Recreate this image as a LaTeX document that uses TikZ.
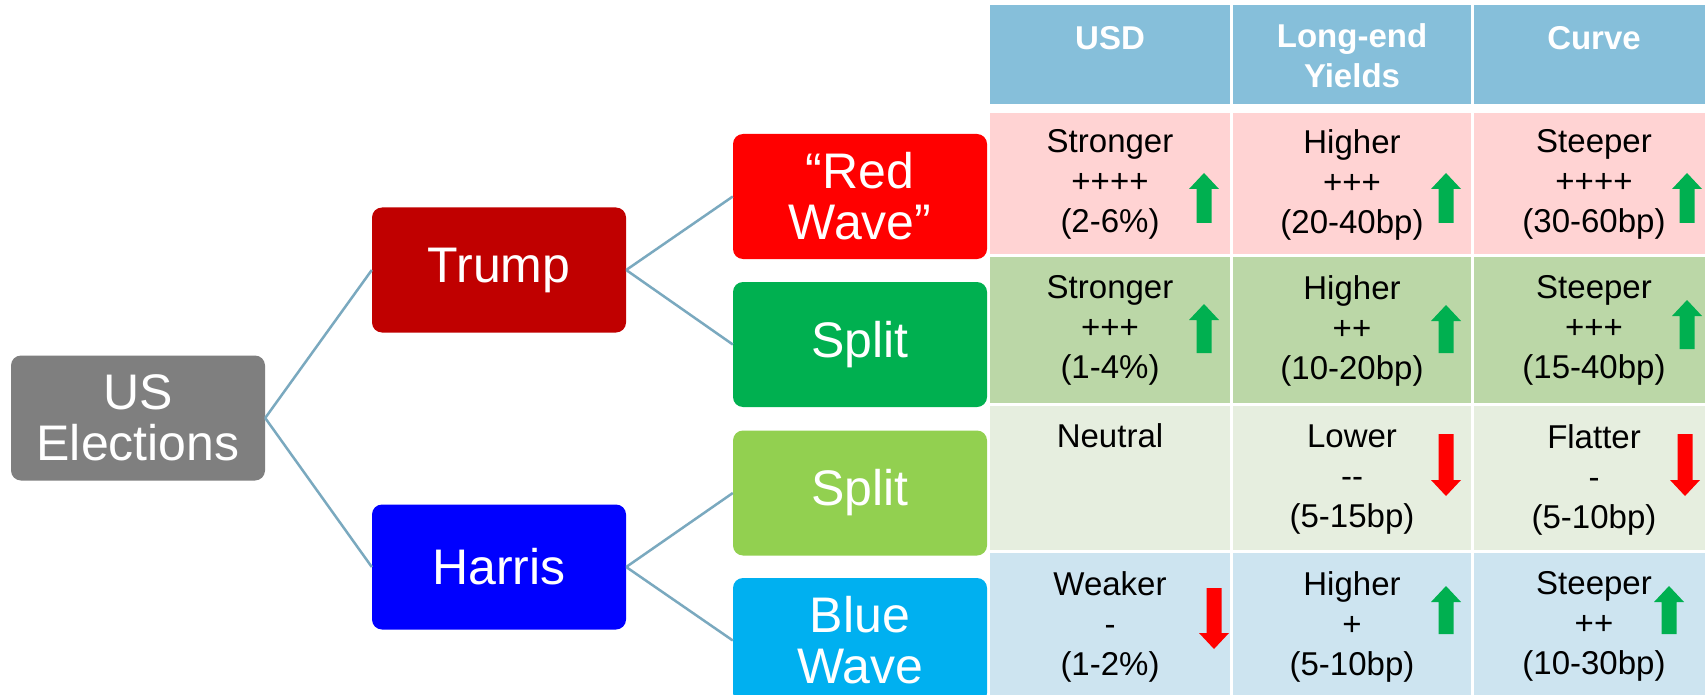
\documentclass[tikz,border=0pt]{standalone}
\usepackage{fontspec}
\setmainfont{Liberation Sans}
\definecolor{cGray}{HTML}{7F7F7F}
\definecolor{cTrump}{HTML}{C00000}
\definecolor{cHarris}{HTML}{0000FF}
\definecolor{cRed}{HTML}{FF0000}
\definecolor{cGreen}{HTML}{00B050}
\definecolor{cLGreen}{HTML}{92D050}
\definecolor{cLBlue}{HTML}{00B0F0}
\definecolor{cLine}{HTML}{7AA9BF}
\definecolor{cHead}{HTML}{86BFDA}
\definecolor{cRa}{HTML}{FFD3D3}
\definecolor{cRb}{HTML}{BBD7A7}
\definecolor{cRc}{HTML}{E6EEDF}
\definecolor{cRd}{HTML}{CDE4F0}
\newcommand\myUp[4]{\fill[#4] ({#1-7.5},#3) -- ({#1-7.5},{#2+16}) -- ({#1-15},{#2+16}) -- (#1,#2) -- ({#1+15},{#2+16}) -- ({#1+7.5},{#2+16}) -- ({#1+7.5},#3) -- cycle;}
\newcommand\myDown[4]{\fill[#4] ({#1-7.5},#2) -- ({#1-7.5},{#3-16}) -- ({#1-15},{#3-16}) -- (#1,#3) -- ({#1+15},{#3-16}) -- ({#1+7.5},{#3-16}) -- ({#1+7.5},#2) -- cycle;}
\begin{document}
\begin{tikzpicture}[x=1pt,y=-1pt,
  treebox/.style={rounded corners=10pt, minimum width=254pt, minimum height=125pt, inner sep=0pt,
    text=white, align=center, font=\fontsize{50}{51}\selectfont},
  link/.style={draw=cLine, line width=2.5pt},
  celltxt/.style={anchor=north, inner sep=0pt, align=center, font=\fontsize{33}{40}\selectfont, execute at begin node=\strut},
  hdrtxt/.style={anchor=north, inner sep=0pt, align=center, text=white, font=\fontsize{33}{40}\selectfont\bfseries, execute at begin node=\strut}]
\useasboundingbox (0,0) rectangle (1705,695);
\clip (0,0) rectangle (1705,695);
\fill[white] (0,0) rectangle (1705,695);

% tree
\node[treebox, fill=cGray] (us) at (138,418) {US\\Elections};
\node[treebox, fill=cTrump] (trump) at (499,270) {Trump};
\node[treebox, fill=cHarris] (harris) at (499,567) {Harris};
\node[treebox, fill=cRed] (redwave) at (860,196.5) {“Red\\Wave”};
\node[treebox, fill=cGreen] (splita) at (860,344.5) {Split};
\node[treebox, fill=cLGreen] (splitb) at (860,493) {Split};
\node[treebox, fill=cLBlue] (bluewave) at (860,640.5) {Blue\\Wave};
\draw[link] (us.east) -- (trump.west);
\draw[link] (us.east) -- (harris.west);
\draw[link] (trump.east) -- (redwave.west);
\draw[link] (trump.east) -- (splita.west);
\draw[link] (harris.east) -- (splitb.west);
\draw[link] (harris.east) -- (bluewave.west);

% table backgrounds
\foreach \xa/\xb in {990/1230,1233/1471,1474/1714}{
  \fill[cHead] (\xa,5) rectangle (\xb,104);
  \fill[cRa] (\xa,113) rectangle (\xb,254);
  \fill[cRb] (\xa,257) rectangle (\xb,403);
  \fill[cRc] (\xa,406) rectangle (\xb,550);
  \fill[cRd] (\xa,553) rectangle (\xb,700);
}

% header
\node[hdrtxt] (h1) at (1110,21) {USD};
\node[hdrtxt] (h2) at (1352,23) {Long-end\\Yields};
\node[hdrtxt] (h3) at (1594,21) {Curve};

% row 1
\node[celltxt] (a1) at (1110,129.5) {Stronger\\++++\\(2-6\%)};
\node[celltxt] (a2) at (1352,129.5) {Higher\\+++\\(20-40bp)};
\node[celltxt] (a3) at (1594,129.5) {Steeper\\++++\\(30-60bp)};
% row 2
\node[celltxt] (b1) at (1110,275.5) {Stronger\\+++\\(1-4\%)};
\node[celltxt] (b2) at (1352,275.5) {Higher\\++\\(10-20bp)};
\node[celltxt] (b3) at (1594,275.5) {Steeper\\+++\\(15-40bp)};
% row 3
\node[celltxt] (c1) at (1110,419) {Neutral};
\node[celltxt] (c2) at (1352,424.5) {Lower\\-{}-\\(5-15bp)};
\node[celltxt] (c3) at (1594,424.5) {Flatter\\-\\(5-10bp)};
% row 4
\node[celltxt] (d1) at (1110,571.5) {Weaker\\-\\(1-2\%)};
\node[celltxt] (d2) at (1352,571.5) {Higher\\+\\(5-10bp)};
\node[celltxt] (d3) at (1594,571.5) {Steeper\\++\\(10-30bp)};

% arrows
\myUp{1204}{173}{223}{cGreen}
\myUp{1446}{173}{223}{cGreen}
\myUp{1687}{173}{223}{cGreen}
\myUp{1204}{304}{353}{cGreen}
\myUp{1446}{305}{353}{cGreen}
\myUp{1687}{300}{349}{cGreen}
\myDown{1446}{434}{496}{cRed}
\myDown{1685}{434}{496}{cRed}
\myDown{1214}{588}{649}{cRed}
\myUp{1446}{586}{634}{cGreen}
\myUp{1669}{586}{634}{cGreen}
\end{tikzpicture}
\end{document}
